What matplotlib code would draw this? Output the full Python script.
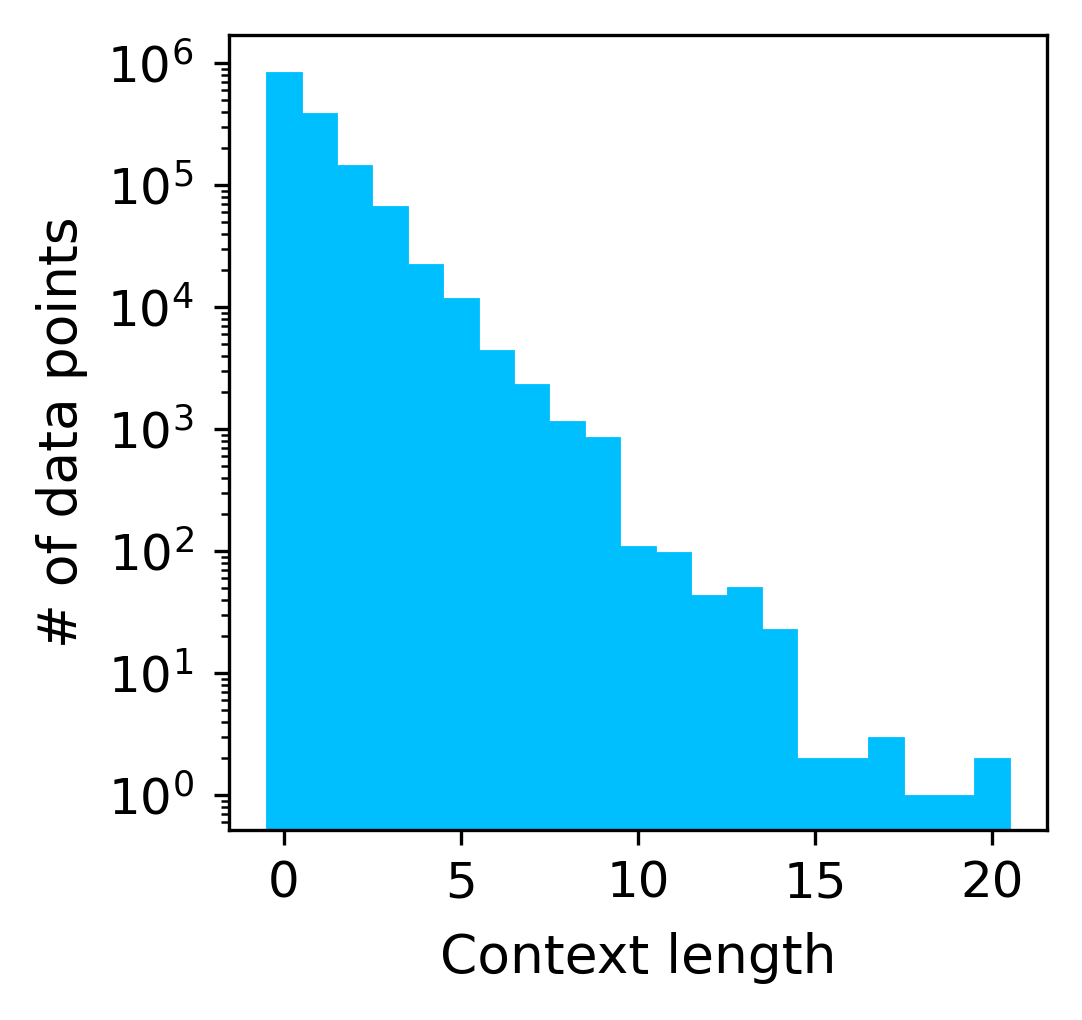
import matplotlib
matplotlib.use("Agg")
import matplotlib.pyplot as plt
from matplotlib.ticker import NullFormatter
import numpy as np

context_length = list(range(21))
counts = [843000, 389000, 146000, 67300, 22500, 11900, 4440, 2340, 1164, 860,
          110, 98, 44, 51, 23, 2, 2, 3, 1, 1, 2]

fig = plt.figure(figsize=(1082/300, 1020/300), dpi=300)
ax = fig.add_axes([0.2116, 0.186, 0.7561, 0.7797])
ax.bar(context_length, counts, width=1.0, color="#00BFFF", edgecolor="#00BFFF", linewidth=0.2)
ax.set_yscale("log")
ax.set_ylim(0.516, 1.7e6)
ax.yaxis.set_minor_formatter(NullFormatter())
ax.set_xlim(-1.55, 21.55)
ax.set_xticks([0, 5, 10, 15, 20])
ax.set_xlabel("Context length", fontsize=12.8, labelpad=5.8)
ax.set_ylabel("# of data points", fontsize=12.8, labelpad=4.5)
ax.tick_params(labelsize=12)
ax.tick_params(axis="y", pad=5)
fig.savefig("out.png", dpi=300)
